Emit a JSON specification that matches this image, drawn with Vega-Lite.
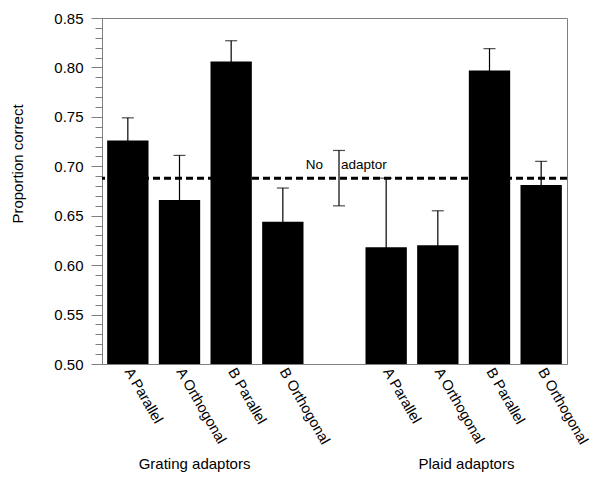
{
  "$schema": "https://vega.github.io/schema/vega-lite/v6.json",
  "width": 465,
  "height": 346,
  "autosize": {"type": "none"},
  "padding": {"left": 102, "top": 18, "right": 24, "bottom": 115},
  "background": "white",
  "config": {
    "view": {"stroke": "#808080", "strokeWidth": 1},
    "font": "Liberation Sans",
    "axis": {"labelFont": "Liberation Sans", "titleFont": "Liberation Sans", "labelColor": "black", "titleColor": "black", "titleFontWeight": "normal"}
  },
  "datasets": {
    "results": [
      {"cat": "G|A Parallel", "kind": "bar", "mean": 0.726, "lo": 0.703, "hi": 0.749},
      {"cat": "G|A Orthogonal", "kind": "bar", "mean": 0.666, "lo": 0.621, "hi": 0.711},
      {"cat": "G|B Parallel", "kind": "bar", "mean": 0.806, "lo": 0.786, "hi": 0.827},
      {"cat": "G|B Orthogonal", "kind": "bar", "mean": 0.644, "lo": 0.610, "hi": 0.678},
      {"cat": "N|", "kind": "baseline", "mean": 0.688, "lo": 0.660, "hi": 0.716},
      {"cat": "P|A Parallel", "kind": "bar", "mean": 0.618, "lo": 0.548, "hi": 0.688},
      {"cat": "P|A Orthogonal", "kind": "bar", "mean": 0.620, "lo": 0.585, "hi": 0.655},
      {"cat": "P|B Parallel", "kind": "bar", "mean": 0.797, "lo": 0.775, "hi": 0.819},
      {"cat": "P|B Orthogonal", "kind": "bar", "mean": 0.681, "lo": 0.657, "hi": 0.705}
    ],
    "groups": [
      {"group": "Grating adaptors"},
      {"group": "Plaid adaptors"}
    ]
  },
  "layer": [
    {
      "data": {"name": "results"},
      "layer": [
        {
          "transform": [{"filter": "datum.kind == 'baseline'"}],
          "mark": {"type": "rule", "strokeDash": [7, 4], "strokeWidth": 3, "color": "black"},
          "encoding": {
            "y": {"field": "mean", "type": "quantitative", "title": "Proportion correct", "scale": {"domain": [0.5, 0.85], "zero": false, "nice": false}}
          }
        },
        {
          "mark": {"type": "rule", "color": "black", "strokeWidth": 1.2, "xOffset": {"expr": "datum.kind == 'baseline' ? 4.5 : 0"}},
          "encoding": {
            "x": {"field": "cat", "type": "nominal", "sort": null, "scale": {"type": "band", "domain": ["G|A Parallel", "G|A Orthogonal", "G|B Parallel", "G|B Orthogonal", "N|", "P|A Parallel", "P|A Orthogonal", "P|B Parallel", "P|B Orthogonal"], "paddingInner": 0.2, "paddingOuter": 0.1}},
            "y": {"field": "lo", "type": "quantitative", "title": "Proportion correct"},
            "y2": {"field": "hi"}
          }
        },
        {
          "mark": {"type": "tick", "color": "black", "size": 12, "thickness": 1.2, "orient": "horizontal", "xOffset": {"expr": "datum.kind == 'baseline' ? 4.5 : 0"}},
          "encoding": {
            "x": {"field": "cat", "type": "nominal"},
            "y": {"field": "lo", "type": "quantitative", "title": "Proportion correct"}
          }
        },
        {
          "mark": {"type": "tick", "color": "black", "size": 12, "thickness": 1.2, "orient": "horizontal", "xOffset": {"expr": "datum.kind == 'baseline' ? 4.5 : 0"}},
          "encoding": {
            "x": {"field": "cat", "type": "nominal"},
            "y": {"field": "hi", "type": "quantitative", "title": "Proportion correct"}
          }
        },
        {
          "transform": [{"filter": "datum.kind == 'bar'"}],
          "mark": {"type": "bar", "color": "black"},
          "encoding": {
            "x": {
              "field": "cat", "type": "nominal",
              "axis": {"title": null, "ticks": false, "domain": false, "labelAngle": 60, "labelAlign": "left", "labelBaseline": "middle", "labelPadding": 5, "labelFontSize": 14.5, "labelOverlap": false, "labelBound": false, "labelExpr": "split(datum.label, '|')[1]"}
            },
            "y": {
              "field": "mean", "type": "quantitative", "title": "Proportion correct",
              "axis": {
                "values": [0.5, 0.55, 0.6, 0.65, 0.7, 0.75, 0.8, 0.85],
                "format": ".2f",
                "tickSize": 11,
                "tickColor": "#808080",
                "domainColor": "#808080",
                "grid": false,
                "labelPadding": 8,
                "labelFontSize": 15,
                "labelOverlap": false,
                "labelBound": false,
                "titleFontSize": 15,
                "titleAngle": 270,
                "titleAlign": "center",
                "titleBaseline": "bottom",
                "titleX": -77,
                "titleY": 145.5
              }
            },
            "y2": {"datum": 0.5}
          }
        },
        {
          "transform": [{"filter": "datum.kind == 'baseline'"}],
          "mark": {"type": "text", "text": "No", "align": "right", "baseline": "alphabetic", "dx": -11.5, "dy": -9, "fontSize": 13.5, "color": "black"},
          "encoding": {
            "x": {"field": "cat", "type": "nominal"},
            "y": {"field": "mean", "type": "quantitative", "title": "Proportion correct"}
          }
        },
        {
          "transform": [{"filter": "datum.kind == 'baseline'"}],
          "mark": {"type": "text", "text": "adaptor", "align": "left", "baseline": "alphabetic", "dx": 6.5, "dy": -9, "fontSize": 13.5, "color": "black"},
          "encoding": {
            "x": {"field": "cat", "type": "nominal"},
            "y": {"field": "mean", "type": "quantitative", "title": "Proportion correct"}
          }
        }
      ]
    },
    {
      "data": {"name": "groups"},
      "mark": {"type": "point", "opacity": 0},
      "encoding": {
        "x": {
          "field": "group", "type": "nominal", "sort": null,
          "scale": {"type": "band", "paddingInner": 0.5, "paddingOuter": 0.105, "align": 0.43},
          "axis": {"orient": "bottom", "title": null, "ticks": false, "tickSize": 0, "domain": false, "labelAngle": 0, "labelAlign": "center", "labelBaseline": "top", "labelPadding": 92, "labelFontSize": 15}
        },
        "y": {
          "datum": 0.5, "type": "quantitative",
          "scale": {"domain": [0.5, 0.85], "zero": false, "nice": false},
          "axis": {
            "orient": "left",
            "values": [0.5, 0.51, 0.52, 0.53, 0.54, 0.55, 0.56, 0.57, 0.58, 0.59, 0.6, 0.61, 0.62, 0.63, 0.64, 0.65, 0.66, 0.67, 0.68, 0.69, 0.7, 0.71, 0.72, 0.73, 0.74, 0.75, 0.76, 0.77, 0.78, 0.79, 0.8, 0.81, 0.82, 0.83, 0.84, 0.85],
            "labels": false,
            "title": null,
            "domain": false,
            "grid": false,
            "tickSize": 7,
            "tickColor": "#808080"
          }
        }
      }
    }
  ],
  "resolve": {"scale": {"x": "independent", "y": "independent"}}
}
